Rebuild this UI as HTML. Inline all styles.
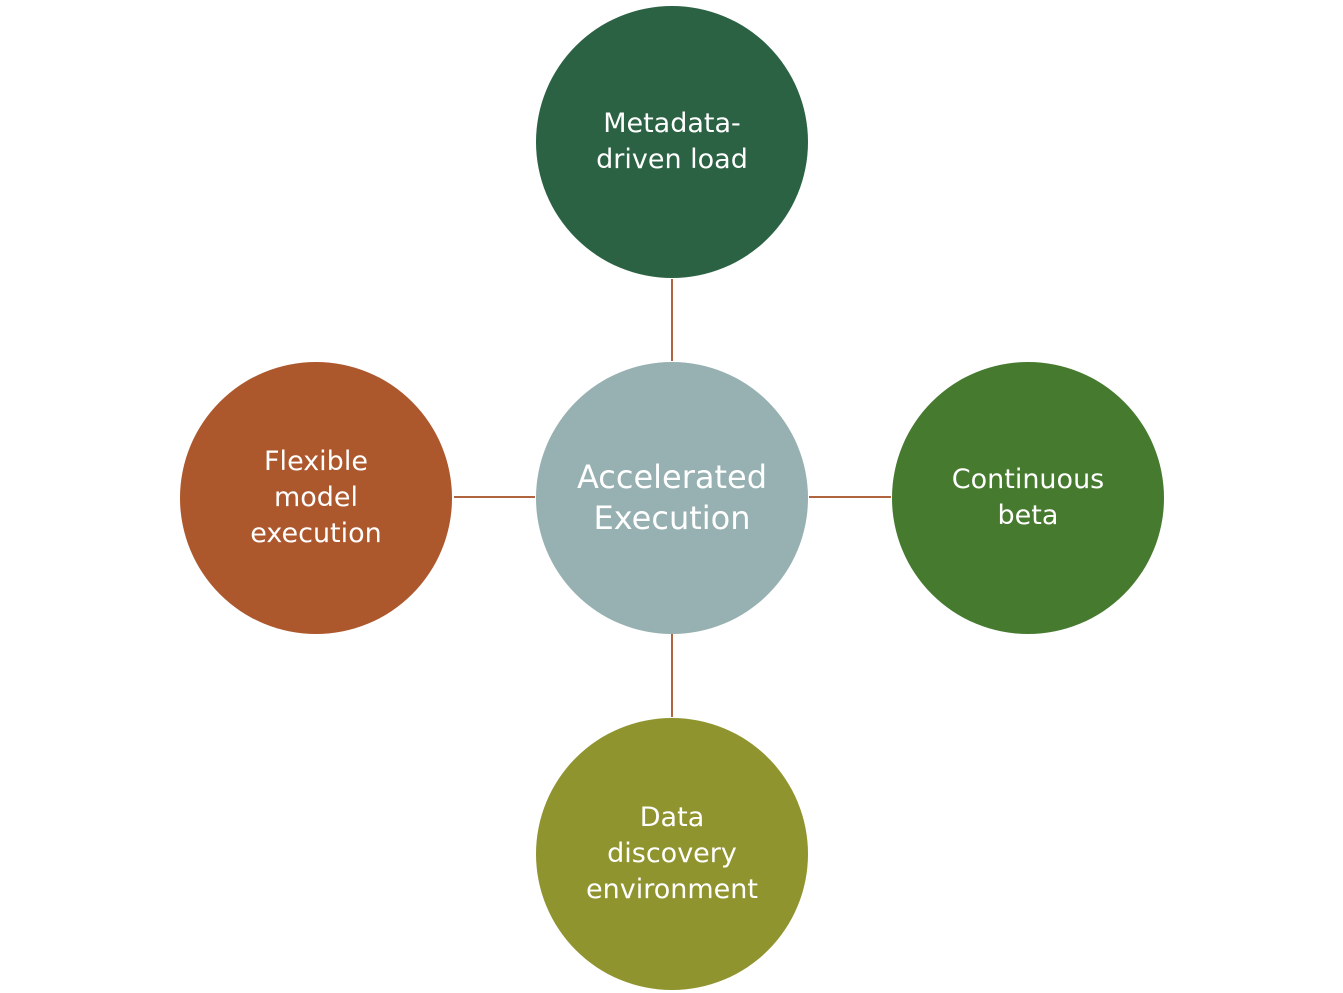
<!DOCTYPE html>
<html><head><style>
html,body{margin:0;padding:0;background:#fff;}
body{width:1343px;height:993px;position:relative;overflow:hidden;font-family:"DejaVu Sans","Liberation Sans",sans-serif;}
.c{position:absolute;width:272px;height:272px;border-radius:50%;display:flex;align-items:center;justify-content:center;text-align:center;color:#fff;font-size:27px;line-height:36px;}
.l{position:absolute;background:#b0643f;}
</style></head><body>
<div class="l" style="left:671px;top:279px;width:2px;height:82px"></div>
<div class="l" style="left:671px;top:634px;width:2px;height:83px"></div>
<div class="l" style="left:454px;top:496px;width:81px;height:2px"></div>
<div class="l" style="left:809px;top:496px;width:82px;height:2px"></div>
<div class="c" style="left:536px;top:6px;background:#2b6243">Metadata-<br>driven load</div>
<div class="c" style="left:536px;top:362px;background:#97b0b1;font-size:32px;line-height:41px">Accelerated<br>Execution</div>
<div class="c" style="left:180px;top:362px;background:#ad572d">Flexible<br>model<br>execution</div>
<div class="c" style="left:892px;top:362px;background:#467a2f">Continuous<br>beta</div>
<div class="c" style="left:536px;top:718px;background:#8f942e">Data<br>discovery<br>environment</div>
</body></html>
